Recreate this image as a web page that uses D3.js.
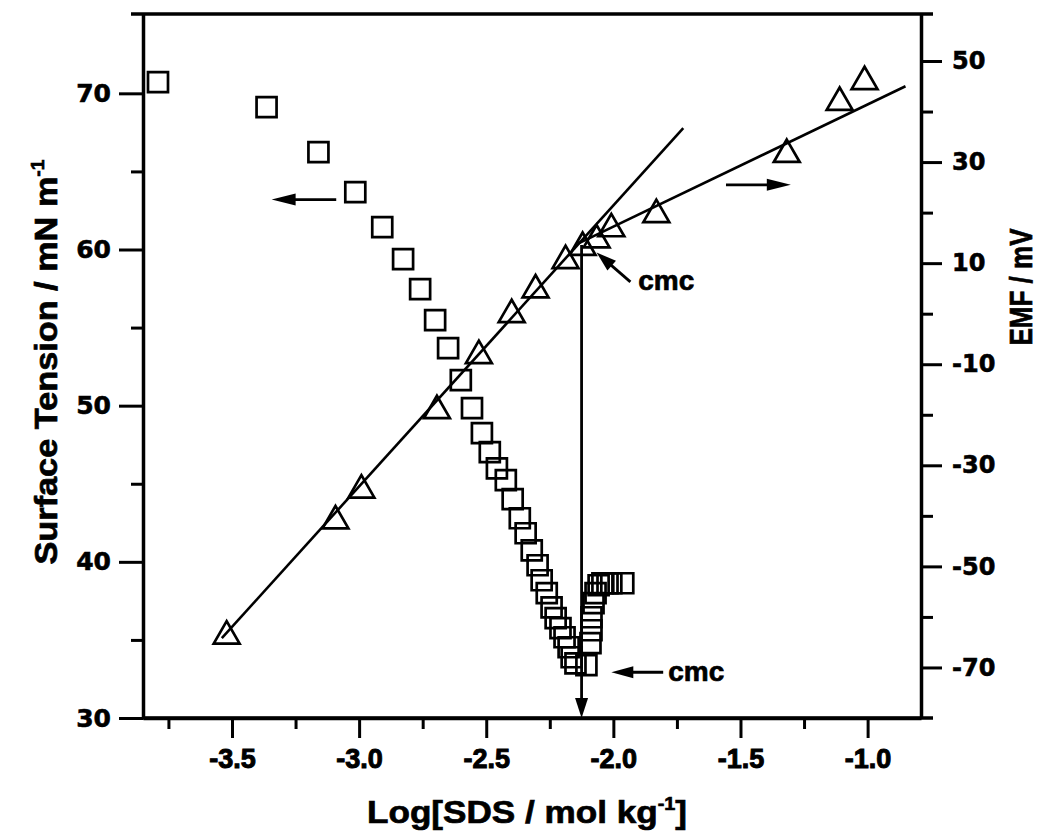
<!DOCTYPE html>
<html lang="en">
<head>
<meta charset="UTF-8">
<title>SDS surface tension and EMF</title>
<script src="https://d3js.org/d3.v7.min.js"></script>
<style>
  body { margin: 0; background: #fff; }
  text { font-family: "Liberation Sans", Arial, sans-serif; font-weight: bold; fill: #000; }
  .axis .domain { stroke: #000; stroke-width: 3.5; }
  .axis .tick line { stroke: #000; stroke-width: 3; }
  .axis .tick text { stroke: #000; stroke-width: 1; }
  .yax .tick text { font-family: "DejaVu Sans", sans-serif; stroke-width: 0.6; }
  .title { stroke: #000; stroke-width: 0.7; }
</style>
</head>
<body>
<div id="chart"></div>
<script>
// surface tension (left axis), squares
var sqX = [-3.791, -3.364, -3.160, -3.015, -2.909, -2.827, -2.760, -2.701, -2.650, -2.600,
           -2.556, -2.517, -2.486, -2.458, -2.423, -2.396, -2.368, -2.345, -2.321, -2.298,
           -2.282, -2.262, -2.243, -2.227, -2.208, -2.192, -2.176, -2.164, -2.149, -2.106,
           -2.090, -2.086, -2.086, -2.078, -2.070, -2.058, -2.043, -2.023, -2.008, -1.961];
var sqY = [70.72, 69.12, 66.24, 63.68, 61.43, 59.38, 57.46, 55.48, 53.68, 51.63,
           49.84, 48.24, 47.02, 45.99, 45.23, 44.01, 42.79, 41.83, 40.74, 39.78,
           38.82, 37.99, 37.09, 36.39, 35.75, 35.17, 34.53, 33.89, 33.50, 33.38,
           34.79, 35.62, 36.45, 37.35, 37.99, 38.50, 38.63, 38.63, 38.63, 38.63];

// EMF (right axis), triangles
var triX = [-3.521, -3.093, -2.991, -2.694, -2.529, -2.400, -2.306, -2.188, -2.121, -2.066,
            -2.008, -1.831, -1.318, -1.110, -1.012];
var triY = [-63.8, -41.0, -34.9, -19.2, -8.3, -0.2, 4.7, 10.5, 13.1, 14.6,
            16.8, 19.6, 31.5, 41.8, 45.9];

// linear fits on EMF, below and above cmc
var fitLow = [[-3.54, -64.2], [-1.725, 36.7]];
var fitHigh = [[-2.137, 13.9], [-0.851, 45.0]];
var cmcX = -2.125;

var xTicks = [-3.5, -3.0, -2.5, -2.0, -1.5, -1.0];
var xMinor = [-3.75, -3.25, -2.75, -2.25, -1.75, -1.25];
var leftTicks = [30, 40, 50, 60, 70];
var leftMinor = [35, 45, 55, 65];
var rightTicks = [-70, -50, -30, -10, 10, 30, 50];
var rightMinor = [-60, -40, -20, 0, 20, 40];

var margin = { top: 14, right: 121, bottom: 122, left: 143 };
var width = 1042, height = 840;

var svg = d3.select("#chart").append("svg")
  .attr("width", width).attr("height", height);

var x = d3.scaleLinear().domain([-3.85, -0.79]).range([margin.left, width - margin.right]);
var yL = d3.scaleLinear().domain([30, 75.08]).range([height - margin.bottom, margin.top]);
var yR = d3.scaleLinear().domain([-80, 59.3]).range([height - margin.bottom, margin.top]);

var x0 = margin.left, x1 = width - margin.right, yb = height - margin.bottom, yt = margin.top;

var fmt1 = d => d3.format(".1f")(d).replace("\u2212", "-");
var fmt0 = d => d3.format("d")(d).replace("\u2212", "-");

// axes
svg.append("g").attr("class", "axis")
  .attr("transform", "translate(0," + yb + ")")
  .call(d3.axisBottom(x).tickValues(xTicks).tickSize(20).tickSizeOuter(0).tickPadding(11).tickFormat(fmt1))
  .call(g => g.selectAll(".tick text").attr("font-size", 27));
svg.append("g").attr("class", "axis")
  .attr("transform", "translate(0," + yb + ")")
  .call(d3.axisBottom(x).tickValues(xMinor).tickSize(11).tickFormat(""))
  .call(g => g.select(".domain").remove());

svg.append("g").attr("class", "axis yax")
  .attr("transform", "translate(" + x0 + ",0)")
  .call(d3.axisLeft(yL).tickValues(leftTicks).tickSize(24).tickSizeOuter(0).tickPadding(8).tickFormat(fmt0))
  .call(g => g.selectAll(".tick text").attr("font-size", 25));
svg.append("g").attr("class", "axis")
  .attr("transform", "translate(" + x0 + ",0)")
  .call(d3.axisLeft(yL).tickValues(leftMinor).tickSize(12).tickFormat(""))
  .call(g => g.select(".domain").remove());

svg.append("g").attr("class", "axis yax")
  .attr("transform", "translate(" + x1 + ",0)")
  .call(d3.axisRight(yR).tickValues(rightTicks).tickSize(21).tickSizeOuter(0).tickPadding(10).tickFormat(fmt0))
  .call(g => g.selectAll(".tick text").attr("font-size", 24));
svg.append("g").attr("class", "axis")
  .attr("transform", "translate(" + x1 + ",0)")
  .call(d3.axisRight(yR).tickValues(rightMinor).tickSize(12).tickFormat(""))
  .call(g => g.select(".domain").remove());

// frame top and bottom
svg.append("line").attr("x1", x0 - 12).attr("x2", x1 + 12).attr("y1", yt).attr("y2", yt)
  .attr("stroke", "#000").attr("stroke-width", 3.5);
svg.append("line").attr("x1", x0).attr("x2", x1 + 12).attr("y1", yb).attr("y2", yb)
  .attr("stroke", "#000").attr("stroke-width", 3.5);

// fit lines
var lineR = d3.line().x(d => x(d[0])).y(d => yR(d[1]));
[fitLow, fitHigh].forEach(function (f) {
  svg.append("path").datum(f).attr("d", lineR)
    .attr("fill", "none").attr("stroke", "#000").attr("stroke-width", 2.6);
});

function arrow(xa, ya, xb, yb2, len, w) {
  var a = Math.atan2(yb2 - ya, xb - xa);
  var bx = xb - len * Math.cos(a), by = yb2 - len * Math.sin(a);
  var px = -Math.sin(a) * w / 2, py = Math.cos(a) * w / 2;
  svg.append("line").attr("x1", xa).attr("y1", ya).attr("x2", bx + Math.cos(a) * 2).attr("y2", by + Math.sin(a) * 2)
    .attr("stroke", "#000").attr("stroke-width", 2.8);
  svg.append("path")
    .attr("d", "M" + xb + "," + yb2 + "L" + (bx + px) + "," + (by + py) + "L" + (bx - px) + "," + (by - py) + "Z")
    .attr("fill", "#000");
}

// cmc vertical line with arrow to the x axis
arrow(x(cmcX), yR(13.6), x(cmcX), yL(30), 20, 13);

// squares
var sq = d3.symbol().type(d3.symbolSquare).size(400);
svg.append("g").selectAll("path").data(sqX.map((d, i) => [d, sqY[i]])).join("path")
  .attr("d", sq)
  .attr("transform", d => "translate(" + x(d[0]) + "," + yL(d[1]) + ")")
  .attr("fill", "none").attr("stroke", "#000").attr("stroke-width", 2.7);

// triangles
var tri = d3.symbol().type(d3.symbolTriangle).size(290);
svg.append("g").selectAll("path").data(triX.map((d, i) => [d, triY[i]])).join("path")
  .attr("d", tri)
  .attr("transform", d => "translate(" + x(d[0]) + "," + yR(d[1]) + ")")
  .attr("fill", "none").attr("stroke", "#000").attr("stroke-width", 2.7);

// axis direction arrows
arrow(x(-3.09), yL(63.2), x(-3.344), yL(63.2), 24, 12);
arrow(x(-1.557), yR(25.5), x(-1.302), yR(25.5), 24, 12);

// cmc annotations
arrow(x(-1.933), yR(6.3), x(-2.066), yR(12.1), 20, 13);
arrow(x(-1.804), yL(32.93), x(-2.008), yL(32.93), 22, 12);
svg.append("text").attr("class", "title").attr("x", x(-1.902)).attr("y", yR(4.7)).attr("font-size", 28).text("cmc");
svg.append("text").attr("class", "title").attr("x", x(-1.784)).attr("y", yL(32.37)).attr("font-size", 28).text("cmc");

// axis titles
var tb = svg.append("text").attr("class", "title").attr("x", 527).attr("y", 823).attr("text-anchor", "middle")
  .attr("font-size", 32).attr("textLength", 320).attr("lengthAdjust", "spacingAndGlyphs");
tb.append("tspan").text("Log[SDS / mol kg");
tb.append("tspan").attr("font-size", 18).attr("dy", -13).text("-1");
tb.append("tspan").attr("dy", 13).text("]");

var tl = svg.append("text").attr("class", "title").attr("transform", "translate(57,362) rotate(-90)").attr("text-anchor", "middle")
  .attr("font-size", 32).attr("textLength", 405).attr("lengthAdjust", "spacingAndGlyphs");
tl.append("tspan").text("Surface Tension / mN m");
tl.append("tspan").attr("font-size", 18).attr("dy", -13).text("-1");

svg.append("text").attr("class", "title").attr("transform", "translate(1032,287) rotate(-90)").attr("text-anchor", "middle")
  .attr("font-size", 31).attr("textLength", 117).attr("lengthAdjust", "spacingAndGlyphs")
  .text("EMF / mV");
</script>
</body>
</html>
